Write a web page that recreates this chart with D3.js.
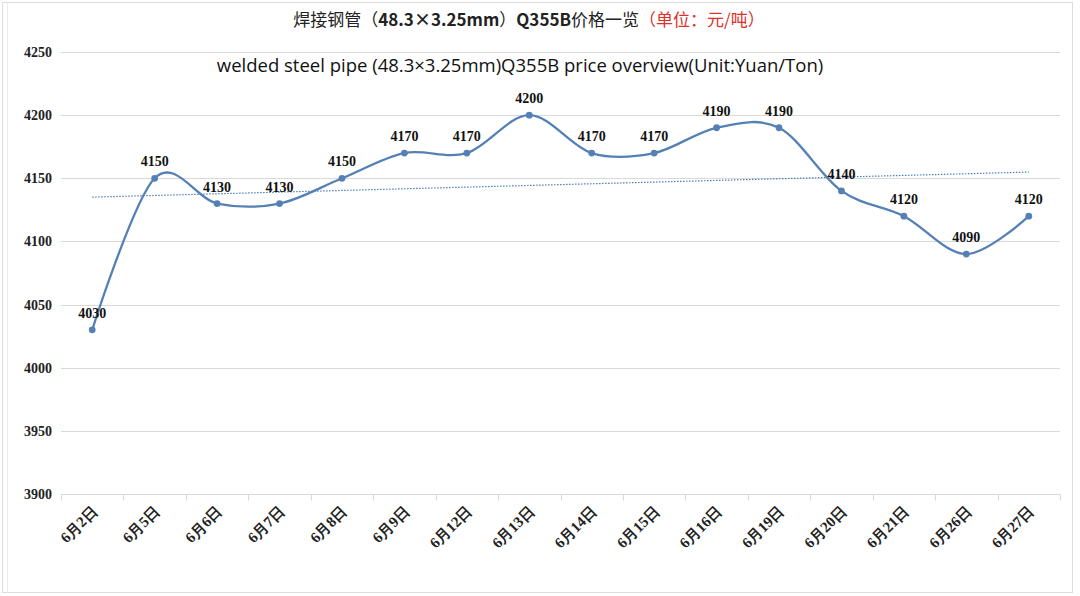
<!DOCTYPE html>
<html><head><meta charset="utf-8">
<script src="https://cdn.jsdelivr.net/npm/d3@7/dist/d3.min.js"></script>
<style>body{margin:0;background:#fff}svg{display:block}</style>
</head><body>
<svg id="c" width="1080" height="596"></svg>
<script>
const categories = ["6月2日","6月5日","6月6日","6月7日","6月8日","6月9日","6月12日","6月13日","6月14日","6月15日","6月16日","6月19日","6月20日","6月21日","6月26日","6月27日"];
const prices = [4030,4150,4130,4130,4150,4170,4170,4200,4170,4170,4190,4190,4140,4120,4090,4120];
const yTicks = [3900,3950,4000,4050,4100,4150,4200,4250];
// title pieces: [text, bold]
const titleParts = [["焊接钢管（", false], ["48.3×3.25mm", true], ["）", false], ["Q355B", true], ["价格一览", false]];
const titleUnit = "（单位：元/吨）";
const subtitle = "welded steel pipe (48.3×3.25mm)Q355B price overview(Unit:Yuan/Ton)";

const svg = d3.select("#c");
const L = 61, R = 1060, T = 52, B = 494;
const x = d3.scaleBand().domain(categories).range([L, R]);
const y = d3.scaleLinear().domain([3900, 4250]).range([B, T]);
const cx = d => x(d) + x.bandwidth() / 2;
const serif = "Liberation Serif, Times New Roman, serif";

// frame
svg.append("rect").attr("x", 2.5).attr("y", 2.5).attr("width", 1070).attr("height", 590)
  .attr("fill", "none").attr("stroke", "#dcdcdc");
svg.append("line").attr("x1", 7.5).attr("x2", 7.5).attr("y1", 2.5).attr("y2", 592.5).attr("stroke", "#ececec");

// gridlines
svg.append("g").selectAll("line").data(yTicks.filter(t => t !== 3900)).join("line")
  .attr("x1", L).attr("x2", R).attr("y1", d => Math.round(y(d)) + 0.5).attr("y2", d => Math.round(y(d)) + 0.5)
  .attr("stroke", "#d9d9d9").attr("stroke-width", 1);

// y axis labels
svg.append("g").selectAll("text").data(yTicks).join("text")
  .attr("x", 52).attr("y", d => y(d) + 5).attr("text-anchor", "end")
  .attr("font-family", serif).attr("font-weight", "bold")
  .attr("font-size", 14).attr("fill", "#222").text(d => d);

// x axis
const gx = svg.append("g").attr("transform", `translate(0,${Math.round(B) + 0.5})`).call(d3.axisBottom(x).tickSize(0).tickFormat(""));
gx.select(".domain").attr("stroke", "#d9d9d9").attr("d", `M${L},0H${R}`);
gx.selectAll(".tick").remove();
const bounds = categories.map(c => x(c)).concat([R]);
gx.selectAll("line.b").data(bounds).join("line").attr("class", "b")
  .attr("x1", d => Math.round(d) + 0.5).attr("x2", d => Math.round(d) + 0.5).attr("y1", 0).attr("y2", 6)
  .attr("stroke", "#d9d9d9");

svg.append("g").selectAll("text").data(categories).join("text")
  .attr("transform", d => `translate(${cx(d) + 6},${B + 18}) rotate(-45)`)
  .attr("text-anchor", "end")
  .attr("font-family", serif).attr("font-weight", "bold")
  .attr("font-size", 15).attr("fill", "#222").text(d => d);

// trend line (linear regression)
const n = prices.length;
const xs = prices.map((_, i) => i + 1);
const mx = d3.mean(xs), my = d3.mean(prices);
const slope = d3.sum(xs.map((v, i) => (v - mx) * (prices[i] - my))) / d3.sum(xs.map(v => (v - mx) ** 2));
const icpt = my - slope * mx;
svg.append("line")
  .attr("x1", cx(categories[0])).attr("y1", y(icpt + slope * 1))
  .attr("x2", cx(categories[n - 1])).attr("y2", y(icpt + slope * n))
  .attr("stroke", "#4a7ebb").attr("stroke-width", 1.2).attr("stroke-dasharray", "1.5,1.5");

// smooth line
const line = d3.line().x((d, i) => cx(categories[i])).y(d => y(d)).curve(d3.curveCardinal.tension(0));
svg.append("path").datum(prices).attr("d", line)
  .attr("fill", "none").attr("stroke", "#5580b5").attr("stroke-width", 2.3);

svg.append("g").selectAll("circle").data(prices).join("circle")
  .attr("cx", (d, i) => cx(categories[i])).attr("cy", d => y(d)).attr("r", 3.4)
  .attr("fill", "#5580b5");

// data labels
svg.append("g").selectAll("text").data(prices).join("text")
  .attr("x", (d, i) => cx(categories[i])).attr("y", d => y(d) - 12)
  .attr("text-anchor", "middle")
  .attr("font-family", serif).attr("font-weight", "bold")
  .attr("font-size", 14).attr("fill", "#111").text(d => d);

// titles
const tt = svg.append("text").attr("x", 529).attr("y", 26).attr("text-anchor", "middle")
  .attr("font-family", "Noto Sans CJK SC, sans-serif").attr("font-size", 17);
titleParts.forEach(([t, b]) => tt.append("tspan").attr("fill", "#222").attr("font-weight", b ? "bold" : "normal").text(t));
tt.append("tspan").attr("fill", "#e0302a").text(titleUnit);

svg.append("text").attr("x", 520).attr("y", 72).attr("text-anchor", "middle")
  .attr("font-family", "Open Sans, sans-serif").attr("font-size", 18.5).attr("fill", "#111")
  .text(subtitle);
</script>
</body></html>
